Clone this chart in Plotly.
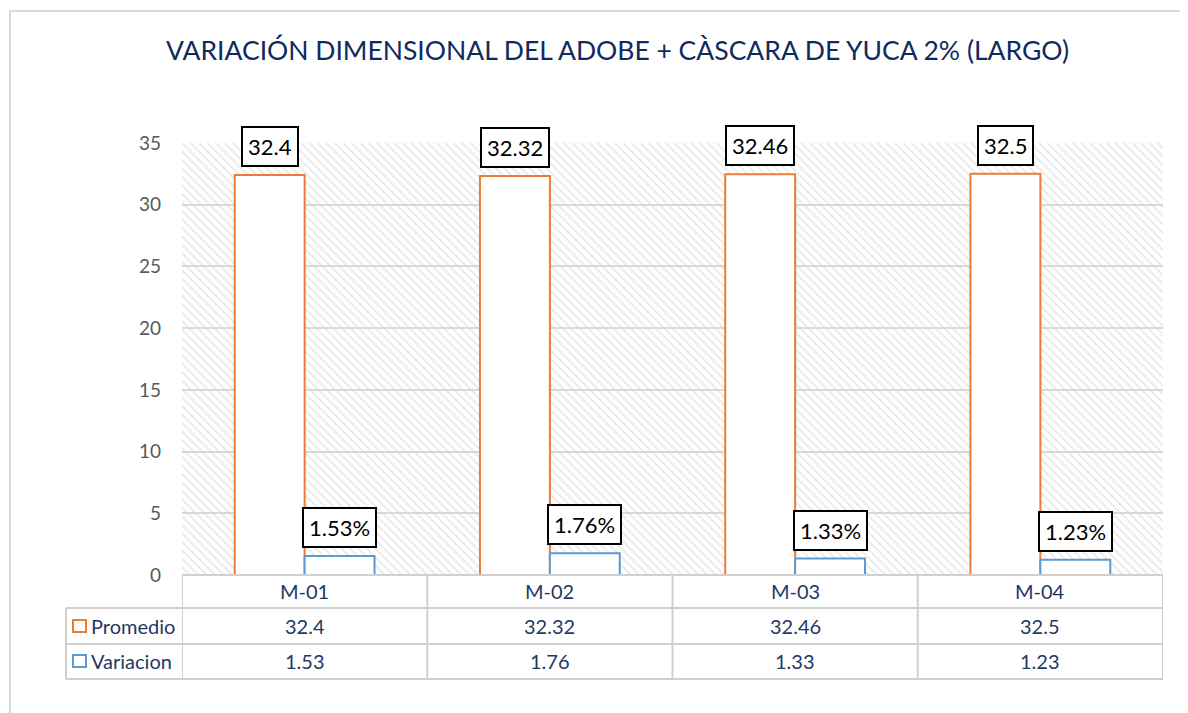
import plotly.graph_objects as go

# ---- data ----
categories = ["M-01", "M-02", "M-03", "M-04"]
promedio = [32.4, 32.32, 32.46, 32.5]
variacion = [1.53, 1.76, 1.33, 1.23]
series_names = ["Promedio", "Variacion"]
y_ticks = [0, 5, 10, 15, 20, 25, 30, 35]
title_text = "VARIACIÓN DIMENSIONAL DEL ADOBE + CÀSCARA DE YUCA 2% (LARGO)"

# ---- layout constants (pixels, in screenshot coordinates) ----
OFF = 8  # page body margin
W, H = 1188 - OFF, 713 - OFF
L, R, T, B = 182, 1163, 143, 575
ORANGE = "#ED7D31"
BLUE = "#5B9BD5"
NAVY = "#1F3864"
TITLE_C = "#0F2A5E"
GRID = "#d9d9d9"
TBL = "#d0d0d0"
FONT = "Lato"


def px(x):
    return (x - L) / (R - L)


def py(y):
    return (B - y) / (B - T)


fig = go.Figure()

# hatched plot-area background
fig.add_trace(go.Bar(
    x=[0.5], y=[max(y_ticks)], width=[1], xaxis="x", yaxis="y",
    marker=dict(color="rgba(0,0,0,0)", line=dict(width=0),
                pattern=dict(shape="\\", fgcolor="#d2d2d2", bgcolor="rgba(0,0,0,0)",
                             size=6, solidity=0.3)),
    hoverinfo="skip", showlegend=False))

colors = [ORANGE, BLUE]
for name, vals, col in zip(series_names, [promedio, variacion], colors):
    fig.add_trace(go.Bar(
        x=categories, y=vals, name=name, xaxis="x2", yaxis="y",
        marker=dict(color="white", line=dict(color=col, width=2)),
        showlegend=False))

annotations = []
shapes = []

# data labels
for vals, shift, fmt in [(promedio, -35, "{}"), (variacion, 35, "{}%")]:
    for c, v in zip(categories, vals):
        annotations.append(dict(
            x=c, xref="x2", y=v, yref="y", yanchor="bottom", yshift=8, xshift=shift,
            text=fmt.format(v), showarrow=False, bgcolor="white",
            bordercolor="black", borderwidth=2, borderpad=5,
            font=dict(family=FONT, size=22, color="black")))

# title
annotations.append(dict(
    x=px(617), y=py(50), xref="paper", yref="paper", text=title_text,
    showarrow=False, xanchor="center", yanchor="middle",
    font=dict(family=FONT, size=26.5, color=TITLE_C)))

# data table text
row_y = [591, 626, 661]
tfont = dict(family=FONT, size=20, color=NAVY)
for i, c in enumerate(categories):
    for ry, txt in zip(row_y, [c, str(promedio[i]), str(variacion[i])]):
        annotations.append(dict(x=c, xref="x2", y=py(ry), yref="paper", text=txt,
                                xanchor="center", yanchor="middle",
                                showarrow=False, font=tfont))

for name, col, ry in zip(series_names, colors, row_y[1:]):
    annotations.append(dict(x=px(89), y=py(ry), xref="paper", yref="paper", text=name,
                            xanchor="left", yanchor="middle", showarrow=False,
                            font=tfont))
    shapes.append(dict(type="rect", xref="paper", yref="paper",
                       x0=px(73), x1=px(86), y0=py(ry - 6), y1=py(ry + 6),
                       line=dict(color=col, width=2), fillcolor="white"))

# table grid
tl = dict(color=TBL, width=2)
shapes.append(dict(type="line", xref="paper", yref="paper", x0=px(182), x1=px(1163),
                   y0=py(575), y1=py(575), line=tl))
for yy in [608, 644, 679]:
    shapes.append(dict(type="line", xref="paper", yref="paper", x0=px(66), x1=px(1163),
                       y0=py(yy), y1=py(yy), line=tl))
shapes.append(dict(type="line", xref="paper", yref="paper", x0=px(66), x1=px(66),
                   y0=py(608), y1=py(679), line=tl))
for k in range(len(categories) + 1):
    shapes.append(dict(type="line", xref="x2", yref="paper", x0=k - 0.5, x1=k - 0.5,
                       y0=py(575), y1=py(679), line=tl))

# outer chart border
shapes.append(dict(type="rect", xref="paper", yref="paper", x0=px(10), x1=px(1200),
                   y0=py(11), y1=py(730), line=dict(color="#d9d9d9", width=2),
                   layer="below"))

fig.update_layout(
    width=W, height=H,
    margin=dict(l=L - OFF, r=(W + OFF) - R, t=T - OFF, b=(H + OFF) - B),
    paper_bgcolor="white", plot_bgcolor="white",
    barmode="group", bargap=0.43, bargroupgap=0,
    xaxis=dict(range=[0, 1], visible=False, fixedrange=True),
    xaxis2=dict(overlaying="x", type="category", range=[-0.5, len(categories) - 0.5],
                visible=False),
    yaxis=dict(range=[0, max(y_ticks)], tickvals=y_ticks, showgrid=True,
               gridcolor=GRID, gridwidth=2, zeroline=False, showline=False,
               ticklabelstandoff=20,
               tickfont=dict(family=FONT, size=19, color="#595959")),
    annotations=annotations, shapes=shapes,
    showlegend=False,
)

fig.write_html("out.html")
